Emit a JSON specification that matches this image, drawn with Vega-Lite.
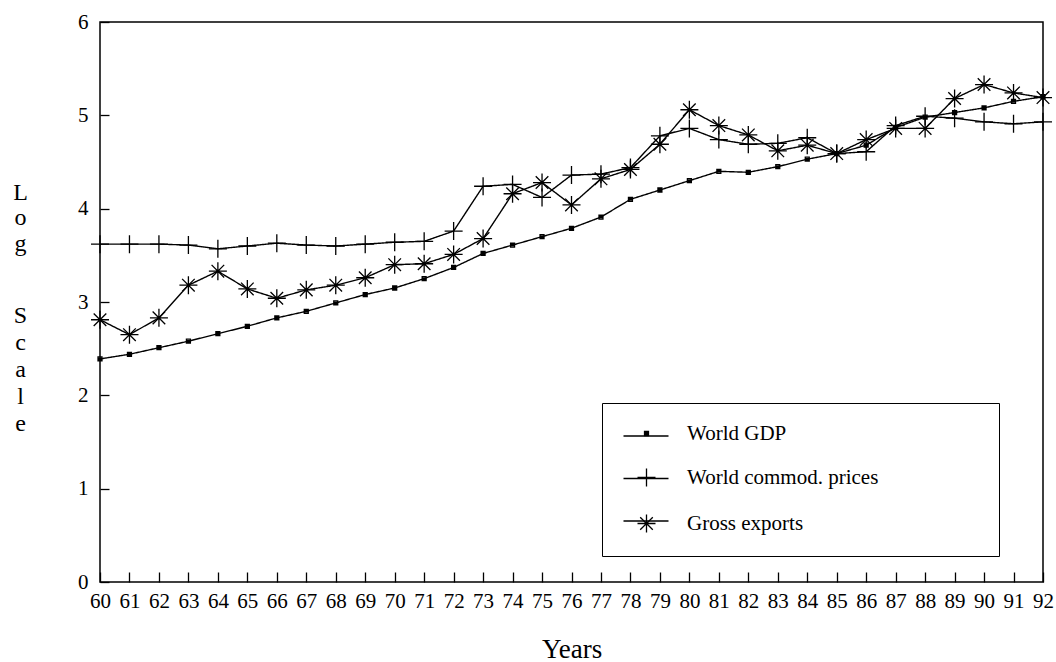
{
  "$schema": "https://vega.github.io/schema/vega-lite/v6.json",
  "autosize": {"type": "none"},
  "padding": {"left": 100, "top": 22, "right": 13, "bottom": 80},
  "width": 943,
  "height": 560,
  "background": "white",
  "config": {
    "font": "Liberation Serif",
    "view": {"stroke": "black", "strokeWidth": 1.5},
    "axis": {"grid": false, "domain": false, "tickColor": "black", "labelColor": "black", "titleColor": "black", "labelFont": "Liberation Serif", "titleFont": "Liberation Serif", "labelFontSize": 21, "titleFontWeight": "normal"}
  },
  "data": {
    "values": [
      {"year": 60, "gdp": 2.39, "commod": 3.62, "exports": 2.81},
      {"year": 61, "gdp": 2.44, "commod": 3.62, "exports": 2.65},
      {"year": 62, "gdp": 2.51, "commod": 3.62, "exports": 2.83},
      {"year": 63, "gdp": 2.58, "commod": 3.61, "exports": 3.18},
      {"year": 64, "gdp": 2.66, "commod": 3.57, "exports": 3.33},
      {"year": 65, "gdp": 2.74, "commod": 3.60, "exports": 3.14},
      {"year": 66, "gdp": 2.83, "commod": 3.63, "exports": 3.04},
      {"year": 67, "gdp": 2.90, "commod": 3.61, "exports": 3.13},
      {"year": 68, "gdp": 2.99, "commod": 3.60, "exports": 3.18},
      {"year": 69, "gdp": 3.08, "commod": 3.62, "exports": 3.26},
      {"year": 70, "gdp": 3.15, "commod": 3.64, "exports": 3.40},
      {"year": 71, "gdp": 3.25, "commod": 3.65, "exports": 3.41},
      {"year": 72, "gdp": 3.37, "commod": 3.76, "exports": 3.51},
      {"year": 73, "gdp": 3.52, "commod": 4.24, "exports": 3.68},
      {"year": 74, "gdp": 3.61, "commod": 4.26, "exports": 4.16},
      {"year": 75, "gdp": 3.70, "commod": 4.12, "exports": 4.28},
      {"year": 76, "gdp": 3.79, "commod": 4.36, "exports": 4.04},
      {"year": 77, "gdp": 3.91, "commod": 4.37, "exports": 4.32},
      {"year": 78, "gdp": 4.10, "commod": 4.44, "exports": 4.42},
      {"year": 79, "gdp": 4.20, "commod": 4.78, "exports": 4.69},
      {"year": 80, "gdp": 4.30, "commod": 4.86, "exports": 5.06},
      {"year": 81, "gdp": 4.40, "commod": 4.74, "exports": 4.89},
      {"year": 82, "gdp": 4.39, "commod": 4.69, "exports": 4.79},
      {"year": 83, "gdp": 4.45, "commod": 4.70, "exports": 4.62},
      {"year": 84, "gdp": 4.53, "commod": 4.76, "exports": 4.68},
      {"year": 85, "gdp": 4.59, "commod": 4.59, "exports": 4.59},
      {"year": 86, "gdp": 4.68, "commod": 4.61, "exports": 4.74},
      {"year": 87, "gdp": 4.87, "commod": 4.89, "exports": 4.86},
      {"year": 88, "gdp": 4.98, "commod": 4.99, "exports": 4.86},
      {"year": 89, "gdp": 5.03, "commod": 4.97, "exports": 5.18},
      {"year": 90, "gdp": 5.08, "commod": 4.93, "exports": 5.33},
      {"year": 91, "gdp": 5.15, "commod": 4.91, "exports": 5.24},
      {"year": 92, "gdp": 5.20, "commod": 4.93, "exports": 5.19}
    ]
  },
  "transform": [
    {"fold": ["gdp", "commod", "exports"], "as": ["key", "value"]},
    {"lookup": "key", "from": {"data": {"values": [
      {"key": "gdp", "series": "World GDP", "line": "World GDP"},
      {"key": "commod", "series": "World commod. prices", "line": "World commod. prices"},
      {"key": "exports", "series": "Gross exports", "line": "Gross exports"}
    ]}, "key": "key", "fields": ["series", "line"]}}
  ],
  "encoding": {
    "x": {
      "field": "year", "type": "quantitative",
      "scale": {"domain": [60, 92], "nice": false, "zero": false},
      "axis": {
        "values": [60,61,62,63,64,65,66,67,68,69,70,71,72,73,74,75,76,77,78,79,80,81,82,83,84,85,86,87,88,89,90,91,92],
        "tickSize": -10, "tickWidth": 1.3, "labelPadding": 18, "labelFlush": false, "labelOverlap": false,
        "title": "Years", "titleFontSize": 27, "titleY": 75, "titleBaseline": "alphabetic"
      }
    }
  },
  "resolve": {"axis": {"y": "independent"}, "legend": {"strokeDash": "independent", "shape": "independent"}},
  "layer": [
    {
      "mark": {"type": "line", "color": "black", "strokeWidth": 1.4},
      "encoding": {
        "strokeDash": {
          "field": "line", "type": "nominal",
          "scale": {"domain": ["World GDP", "World commod. prices", "Gross exports"], "range": [[1, 0], [1, 0], [1, 0]]},
          "legend": {
            "orient": "none", "legendX": 502, "legendY": 384,
            "title": null, "padding": 20,
            "symbolType": "M-2.5,0H2.5", "symbolSize": 324, "symbolStrokeColor": "black", "symbolStrokeWidth": 1.3,
            "rowPadding": 27.5, "symbolOffset": 14, "labelExpr": "''"
          }
        },
        "y": {
          "field": "value", "type": "quantitative",
          "scale": {"domain": [0, 6], "nice": false},
          "axis": {
            "orient": "left",
            "values": [0,1,2,3,4,5,6],
            "tickSize": -9, "tickWidth": 1.3, "labelPadding": 21, "labelFlush": false,
            "title": ["L","o","g"],
            "titleFontSize": 24, "titleLineHeight": 25.5, "titleAngle": 0,
            "titleX": -80, "titleY": 170, "titleAlign": "center", "titleBaseline": "middle"
          }
        }
      }
    },
    {
      "mark": {"type": "point", "filled": false, "color": "black", "stroke": "black", "strokeWidth": 1.3, "opacity": 1, "size": 324},
      "encoding": {
        "y": {
          "field": "value", "type": "quantitative",
          "axis": {
            "orient": "left", "offset": 0,
            "labels": false, "ticks": false, "domain": false,
            "title": ["S","c","a","l","e"],
            "titleFontSize": 24, "titleLineHeight": 27, "titleAngle": 0,
            "titleX": -80, "titleY": 293, "titleAlign": "center", "titleBaseline": "middle"
          }
        },
        "shape": {
          "field": "series", "type": "nominal",
          "scale": {
            "domain": ["World GDP", "World commod. prices", "Gross exports"],
            "range": ["M-0.22,-0.22H0.22V0.22H-0.22ZM-0.22,-0.07H0.22M-0.22,0.07H0.22", "M-1,0H1M0,-1V1", "M-1,0H1M0,-1V1M-0.7,-0.7L0.7,0.7M-0.7,0.7L0.7,-0.7"]
          },
          "legend": {
            "orient": "none", "legendX": 502, "legendY": 381,
            "title": null, "padding": 20, "strokeColor": "black",
            "labelFont": "Liberation Serif", "labelFontSize": 21, "labelColor": "black",
            "symbolSize": 324, "symbolStrokeColor": "black", "symbolStrokeWidth": 1.3,
            "rowPadding": 21, "symbolOffset": 14, "labelOffset": 30, "labelLimit": 800,
            "labelExpr": "datum.label + '\u00a0\u00a0\u00a0\u00a0\u00a0\u00a0\u00a0\u00a0\u00a0\u00a0\u00a0\u00a0\u00a0\u00a0\u00a0\u00a0\u00a0\u00a0\u00a0\u200b'"
          }
        }
      }
    }
  ]
}
